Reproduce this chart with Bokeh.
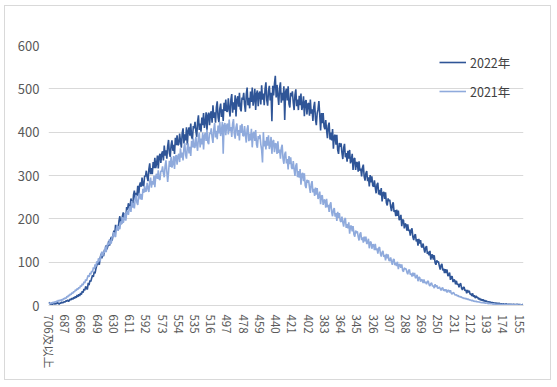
from bokeh.plotting import figure
from bokeh.models import Range1d, FixedTicker, Legend, LegendItem
from bokeh.embed import file_html
from bokeh.resources import INLINE

# categories: every score from 706 (and above) down to 151
scores = list(range(706, 150, -1))

tick_scores = [706, 687, 668, 649, 630, 611, 592, 573, 554, 535, 516, 497, 478, 459, 440,
               421, 402, 383, 364, 345, 326, 307, 288, 269, 250, 231, 212, 193, 174, 155]
tick_labels = ["706及以上", "687", "668", "649", "630", "611", "592", "573", "554", "535",
               "516", "497", "478", "459", "440", "421", "402", "383", "364", "345",
               "326", "307", "288", "269", "250", "231", "212", "193", "174", "155"]
y_ticks = [0, 100, 200, 300, 400, 500, 600]
series_names = ["2022年", "2021年"]

v2022 = [
    8, 4, 3, 5, 2, 4, 6, 3, 5, 4, 7, 5, 3, 6, 5, 8, 6, 7, 9,
    8, 11, 10, 13, 9, 12, 15, 13, 17, 14, 19, 16, 21, 18, 24, 20, 26, 22, 29,
    25, 33, 30, 38, 35, 44, 40, 37, 52, 47, 58, 55, 63, 70, 66, 78, 74, 85, 92,
    101, 97, 94, 110, 119, 109, 119, 114, 129, 126, 139, 130, 137, 149, 138, 152, 158, 150, 162,
    173, 163, 186, 174, 184, 175, 195, 206, 190, 188, 206, 215, 202, 213, 203, 227, 221, 236, 225,
    227, 247, 237, 229, 255, 265, 244, 260, 254, 276, 250, 277, 284, 274, 295, 277, 276, 299, 298,
    311, 296, 287, 315, 328, 303, 317, 303, 331, 317, 341, 317, 327, 346, 316, 344, 350, 329, 350,
    356, 335, 369, 346, 358, 339, 368, 382, 352, 343, 370, 381, 357, 371, 350, 387, 370, 393, 370,
    372, 397, 379, 364, 398, 409, 374, 395, 381, 411, 370, 403, 411, 392, 420, 389, 384, 414, 409,
    424, 402, 389, 424, 439, 405, 420, 401, 434, 416, 444, 410, 422, 446, 404, 439, 445, 416, 442,
    448, 422, 462, 433, 446, 422, 457, 471, 434, 423, 454, 466, 435, 453, 426, 468, 449, 475, 448,
    448, 478, 454, 436, 475, 488, 445, 469, 452, 485, 436, 475, 483, 459, 491, 454, 448, 480, 475,
    491, 464, 447, 487, 503, 462, 479, 455, 494, 470, 503, 461, 475, 500, 451, 489, 496, 460, 489,
    494, 464, 508, 475, 489, 462, 500, 515, 474, 461, 495, 507, 473, 491, 425, 507, 485, 512, 530,
    480, 509, 484, 463, 502, 515, 468, 491, 473, 506, 428, 493, 500, 473, 506, 465, 457, 491, 483,
    494, 468, 451, 486, 499, 460, 475, 451, 484, 462, 489, 451, 461, 483, 437, 470, 474, 441, 465,
    467, 438, 475, 443, 453, 426, 458, 470, 430, 416, 444, 453, 472, 440, 404, 444, 421, 444, 413,
    407, 428, 405, 386, 415, 422, 383, 399, 381, 407, 362, 391, 394, 371, 394, 359, 350, 375, 366,
    374, 352, 338, 364, 373, 342, 352, 332, 357, 339, 359, 328, 335, 350, 313, 338, 340, 313, 331,
    329, 309, 333, 311, 316, 298, 318, 325, 298, 288, 305, 310, 287, 296, 275, 301, 284, 298, 277,
    274, 289, 272, 259, 279, 283, 256, 267, 254, 271, 240, 260, 262, 246, 261, 237, 231, 247, 241,
    244, 228, 218, 233, 238, 216, 220, 206, 221, 207, 219, 197, 200, 209, 183, 198, 197, 178, 189,
    187, 173, 187, 172, 175, 161, 174, 178, 158, 151, 162, 164, 148, 153, 138, 154, 143, 151, 136,
    134, 143, 131, 122, 134, 137, 119, 124, 116, 126, 106, 117, 117, 106, 116, 99, 94, 104, 100,
    101, 91, 83, 93, 96, 81, 85, 75, 84, 75, 83, 68, 70, 76, 59, 67, 67, 54, 60,
    58, 49, 57, 48, 50, 42, 49, 51, 40, 36, 42, 42, 34, 36, 28, 36, 30, 34, 26,
    27, 22, 28, 20, 24, 17, 22, 18, 19, 14, 17, 12, 15, 11, 14, 10, 12, 9, 11,
    9, 8, 9, 7, 8, 6, 7, 6, 6, 5, 6, 5, 5, 4, 5, 4, 4, 4, 3,
    4, 3, 3, 4, 3, 2, 3, 3, 2, 3, 2, 2, 3, 2, 2, 2, 3, 2, 2,
    2, 2, 1, 2, 2,
]

v2021 = [
    6, 4, 5, 7, 5, 8, 6, 9, 8, 10, 9, 12, 10, 13, 11, 14, 12, 16, 15,
    18, 16, 21, 19, 24, 22, 27, 25, 30, 28, 33, 31, 36, 34, 39, 37, 42, 40, 46,
    44, 50, 47, 55, 52, 60, 57, 64, 70, 66, 75, 72, 80, 77, 88, 84, 95, 90, 102,
    97, 109, 104, 102, 118, 124, 114, 124, 122, 136, 123, 138, 144, 140, 153, 143, 144, 159, 160,
    169, 161, 158, 177, 186, 172, 183, 176, 194, 188, 204, 191, 199, 213, 196, 214, 219, 209, 223,
    229, 216, 241, 226, 236, 224, 246, 255, 237, 232, 252, 260, 245, 257, 244, 269, 260, 276, 263,
    264, 283, 271, 262, 286, 295, 272, 287, 279, 300, 273, 298, 304, 292, 312, 292, 290, 311, 309,
    321, 305, 296, 322, 335, 309, 285, 307, 334, 320, 343, 318, 327, 345, 315, 342, 347, 325, 345,
    350, 331, 363, 341, 353, 335, 363, 375, 347, 339, 365, 374, 351, 366, 345, 380, 365, 385, 365,
    365, 389, 371, 357, 388, 399, 365, 385, 372, 399, 360, 392, 399, 380, 406, 377, 372, 399, 396,
    409, 388, 375, 407, 421, 388, 403, 384, 415, 397, 424, 391, 403, 424, 350, 416, 421, 393, 416,
    420, 395, 429, 402, 412, 389, 419, 430, 396, 385, 411, 420, 392, 405, 381, 416, 398, 419, 392,
    391, 414, 393, 376, 407, 416, 379, 397, 381, 408, 365, 396, 401, 380, 405, 372, 364, 391, 384,
    394, 372, 359, 330, 400, 367, 380, 360, 389, 369, 393, 361, 370, 389, 350, 378, 382, 354, 374,
    373, 350, 379, 352, 360, 339, 363, 371, 339, 327, 349, 355, 328, 338, 314, 345, 326, 342, 318,
    315, 333, 314, 299, 323, 328, 296, 310, 295, 315, 279, 303, 306, 287, 305, 277, 271, 290, 283,
    289, 272, 260, 280, 287, 261, 269, 253, 272, 256, 271, 246, 251, 263, 234, 253, 254, 232, 244,
    243, 226, 246, 227, 232, 216, 233, 238, 215, 206, 221, 225, 205, 213, 195, 216, 202, 213, 195,
    193, 205, 192, 182, 198, 202, 179, 188, 178, 192, 166, 183, 184, 171, 183, 164, 159, 173, 167,
    171, 159, 150, 165, 169, 151, 157, 145, 159, 148, 159, 142, 145, 154, 132, 146, 147, 131, 141,
    140, 128, 142, 128, 132, 120, 132, 135, 120, 113, 123, 126, 112, 117, 104, 119, 109, 118, 104,
    103, 111, 101, 94, 106, 107, 93, 99, 91, 101, 84, 94, 95, 87, 95, 81, 78, 87, 84,
    85, 77, 72, 81, 83, 71, 74, 67, 76, 68, 75, 63, 65, 71, 56, 65, 65, 55, 60,
    59, 52, 60, 52, 55, 49, 55, 57, 48, 45, 51, 52, 44, 46, 40, 49, 43, 47, 40,
    40, 43, 39, 35, 40, 41, 34, 37, 33, 37, 30, 35, 35, 30, 35, 28, 26, 30, 29,
    25, 24, 25, 22, 23, 20, 21, 19, 20, 17, 18, 16, 17, 15, 16, 14, 15, 13, 13,
    12, 11, 12, 10, 10, 9, 10, 8, 9, 8, 8, 7, 7, 6, 7, 6, 6, 5, 6,
    5, 5, 4, 5, 4, 4, 4, 3, 4, 3, 3, 3, 3, 3, 2, 3, 2, 2, 3,
    2, 2, 3, 2, 2, 2, 1, 2, 2, 2, 1, 2, 2, 1, 2, 1, 2, 1, 1,
    1, 2, 1, 1, 1,
]

FONT = "Noto Sans CJK SC"
TXT = "#595959"
GRID = "#D9D9D9"
C2022 = "#2F5597"
C2021 = "#8FAADC"

p = figure(width=547, height=375, output_backend="svg", toolbar_location=None,
           x_range=Range1d(706.5, 150.5), y_range=Range1d(0, 600),
           min_border_left=43, min_border_right=29, min_border_top=39, min_border_bottom=76)
p.styles = {"border": "1px solid #D9D9D9", "margin-left": "4px", "margin-top": "5px"}
p.outline_line_color = None
p.background_fill_color = "white"
p.border_fill_color = "white"

r22 = p.line(scores, v2022, line_color=C2022, line_width=1.6)
r21 = p.line(scores, v2021, line_color=C2021, line_width=1.6)

p.xgrid.grid_line_color = None
p.ygrid.grid_line_color = GRID
p.ygrid.grid_line_width = 1

p.yaxis.ticker = FixedTicker(ticks=y_ticks)
p.yaxis.axis_line_color = None
p.yaxis.major_tick_line_color = None
p.yaxis.minor_tick_line_color = None
p.yaxis.major_tick_out = 0
p.yaxis.major_tick_in = 0
p.yaxis.minor_tick_out = 0
p.yaxis.major_label_standoff = 9
p.yaxis.major_label_text_font = FONT
p.yaxis.major_label_text_font_size = "13px"
p.yaxis.major_label_text_color = TXT

p.xaxis.ticker = FixedTicker(ticks=tick_scores)
p.xaxis.major_label_overrides = {s: l for s, l in zip(tick_scores, tick_labels)}
p.xaxis.major_label_orientation = "vertical"
p.xaxis.axis_line_color = GRID
p.xaxis.major_tick_line_color = None
p.xaxis.minor_tick_line_color = None
p.xaxis.major_tick_out = 0
p.xaxis.major_tick_in = 0
p.xaxis.minor_tick_out = 0
p.xaxis.major_label_standoff = 9
p.xaxis.major_label_text_font = FONT
p.xaxis.major_label_text_font_size = "11.5px"
p.xaxis.major_label_text_color = TXT

legend = Legend(items=[LegendItem(label=series_names[0], renderers=[r22]),
                       LegendItem(label=series_names[1], renderers=[r21])],
                location=(391, 204), margin=0, padding=0, spacing=9,
                glyph_width=27, glyph_height=20, label_height=20, label_standoff=4,
                border_line_color=None, background_fill_alpha=0,
                label_text_font=FONT, label_text_font_size="12.5px", label_text_color="#404040")
p.add_layout(legend)

open("out.html", "w").write(file_html(p, INLINE))
